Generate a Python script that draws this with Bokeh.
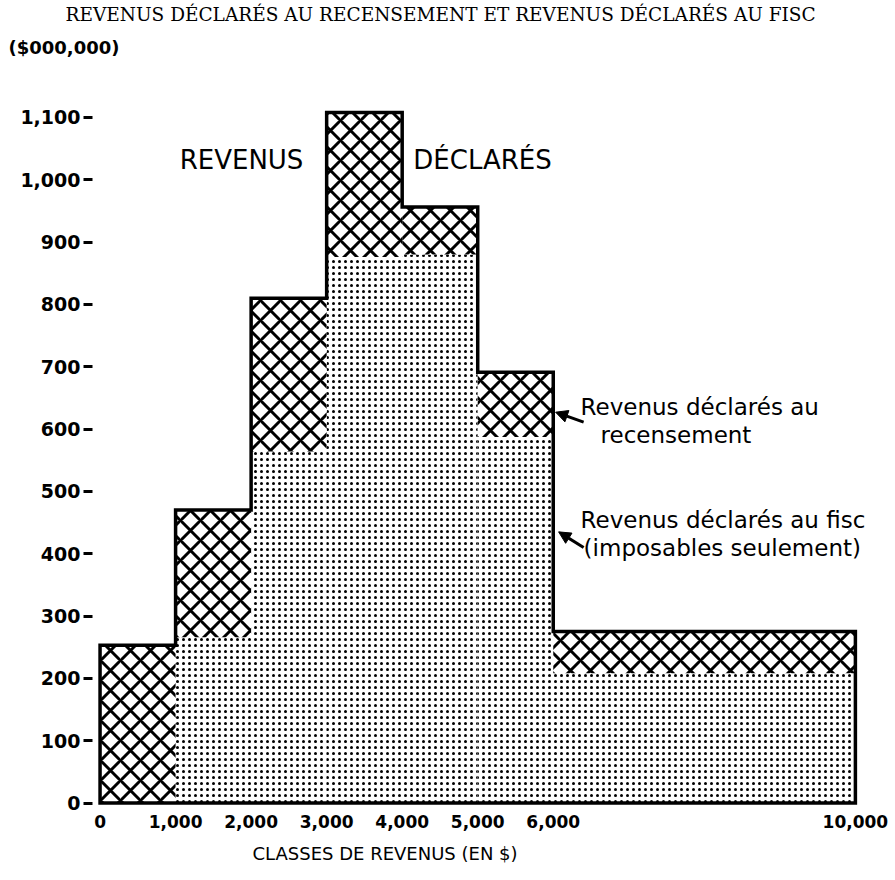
from bokeh.plotting import figure
from bokeh.models import FixedTicker, NumeralTickFormatter, Label, Arrow, NormalHead, Title
from bokeh.embed import file_html
from bokeh.resources import INLINE

# ---- data ----
class_edges = [0, 1000, 2000, 3000, 4000, 5000, 6000, 10000]
census_income = [253, 470, 810, 1108, 956, 691, 275]   # revenus déclarés au recensement
tax_income = [0, 266, 564, 876, 880, 587, 208]         # revenus déclarés au fisc
x_ticks = [0, 1000, 2000, 3000, 4000, 5000, 6000, 10000]
y_ticks = [0, 100, 200, 300, 400, 500, 600, 700, 800, 900, 1000, 1100]

title_text = "REVENUS DÉCLARÉS AU RECENSEMENT ET REVENUS DÉCLARÉS AU FISC"
unit_text = "($000,000)"
x_title = "CLASSES DE REVENUS (EN $)"
note_census = ["Revenus déclarés au", "recensement"]
note_tax = ["Revenus déclarés au fisc", "(imposables seulement)"]

SANS = "DejaVu Sans"
SERIF = "DejaVu Serif"

p = figure(width=890, height=880, x_range=(-100, 10200), y_range=(-4, 1180),
           output_backend="svg", toolbar_location=None, title=None,
           min_border_left=92, min_border_right=20, min_border_top=67, min_border_bottom=75)
p.outline_line_color = None
p.xgrid.visible = False
p.ygrid.visible = False
p.background_fill_color = "white"

left = class_edges[:-1]
right = class_edges[1:]

# dotted part: income declared to the tax office
p.quad(left=left, right=right, bottom=0, top=tax_income,
       fill_color="white", line_color=None,
       hatch_pattern="dot", hatch_scale=6, hatch_weight=4, hatch_color="black")
# cross-hatched part: census surplus
p.quad(left=left, right=right, bottom=tax_income, top=census_income,
       fill_color="white", line_color=None,
       hatch_pattern="diagonal_cross", hatch_scale=20, hatch_weight=3, hatch_color="black")

# outer step contour
xs = [class_edges[0]]
ys = [0]
for i, v in enumerate(census_income):
    xs += [class_edges[i], class_edges[i + 1]]
    ys += [v, v]
xs += [class_edges[-1]]
ys += [0]
p.patch(xs, ys, fill_color=None, line_color="black", line_width=3.5, line_join="miter")

# axes
p.xaxis.ticker = FixedTicker(ticks=x_ticks)
p.xaxis.formatter = NumeralTickFormatter(format="0,0")
p.xaxis.axis_line_color = None
p.xaxis.major_tick_line_color = None
p.xaxis.minor_tick_line_color = None
p.xaxis.major_label_standoff = 3
p.xaxis.major_label_text_font = SANS
p.xaxis.major_label_text_font_style = "bold"
p.xaxis.major_label_text_font_size = "17px"
p.xaxis.major_label_text_color = "black"

p.yaxis.ticker = FixedTicker(ticks=y_ticks)
p.yaxis.formatter = NumeralTickFormatter(format="0,0")
p.yaxis.axis_line_color = None
p.yaxis.minor_tick_line_color = None
p.yaxis.major_tick_in = 0
p.yaxis.major_tick_out = 9
p.yaxis.major_tick_line_width = 3
p.yaxis.major_tick_line_color = "black"
p.yaxis.major_label_standoff = 3
p.yaxis.major_label_text_font = SANS
p.yaxis.major_label_text_font_style = "bold"
p.yaxis.major_label_text_font_size = "19px"
p.yaxis.major_label_text_color = "black"

# titles (outside the frame)
p.add_layout(Title(text=unit_text, align="left", offset=-84, standoff=20,
                   text_font=SANS, text_font_style="bold", text_font_size="18px",
                   text_color="black"), "above")
p.add_layout(Title(text=title_text, align="left", offset=-27, standoff=0,
                   text_font=SERIF, text_font_style="normal", text_font_size="18.5px",
                   text_color="black"), "above")
p.add_layout(Title(text=x_title, align="left", offset=160, standoff=20,
                   vertical_align="bottom",
                   text_font=SANS, text_font_style="normal", text_font_size="18px",
                   text_color="black"), "below")

# texts inside the plot (data units)
p.add_layout(Label(x=1873, y=1031, text="REVENUS", text_align="center", text_baseline="middle",
                   text_font=SANS, text_font_size="26px", text_color="black"))
p.add_layout(Label(x=5064, y=1031, text="DÉCLARÉS", text_align="center", text_baseline="middle",
                   text_font=SANS, text_font_size="26px", text_color="black"))

p.add_layout(Label(x=6362, y=635, text=note_census[0], text_align="left", text_baseline="middle",
                   text_font=SANS, text_font_size="23px", text_color="black"))
p.add_layout(Label(x=6627, y=590, text=note_census[1], text_align="left", text_baseline="middle",
                   text_font=SANS, text_font_size="23px", text_color="black"))
p.add_layout(Label(x=6362, y=454, text=note_tax[0], text_align="left", text_baseline="middle",
                   text_font=SANS, text_font_size="23px", text_color="black"))
p.add_layout(Label(x=6402, y=409, text=note_tax[1], text_align="left", text_baseline="middle",
                   text_font=SANS, text_font_size="23px", text_color="black"))

p.add_layout(Arrow(x_start=6402, y_start=611, x_end=6031, y_end=627, line_width=3,
                   end=NormalHead(size=12, fill_color="black", line_color="black")))
p.add_layout(Arrow(x_start=6402, y_start=410, x_end=6071, y_end=435, line_width=3,
                   end=NormalHead(size=12, fill_color="black", line_color="black")))

open("out.html", "w").write(file_html(p, INLINE))
